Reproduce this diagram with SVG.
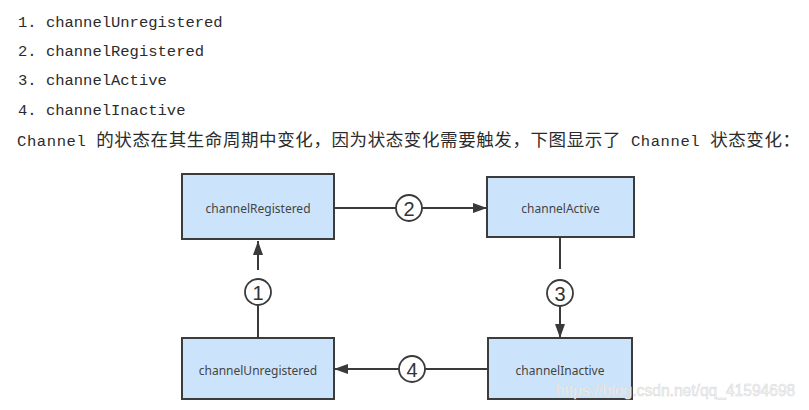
<svg xmlns="http://www.w3.org/2000/svg" width="809" height="410" viewBox="0 0 809 410">
<style>
.lst{font-family:"Liberation Mono",monospace;font-size:15.5px;fill:#2b2b2b}
.cjk{font-family:"Noto Sans CJK SC",sans-serif;font-size:17.5px}
.box{fill:#cce4fb;stroke:#3c3c3c;stroke-width:2}
.lbl{font-family:"Noto Sans","Liberation Sans",sans-serif;font-size:12px;fill:#444;text-anchor:middle;dominant-baseline:central}
.ln{stroke:#3a3a3a;stroke-width:2;fill:none}
.cir{fill:#fff;stroke:#3a3a3a;stroke-width:1.8}
.num{font-family:"Liberation Sans",sans-serif;font-size:20px;fill:#333;text-anchor:middle;dominant-baseline:central}
.wm{font-family:"Liberation Sans",Arial,sans-serif;font-size:15.6px;fill:#f6f6f6;stroke:#d6d6d6;stroke-width:0.5}
</style>
<defs>
<marker id="ah" viewBox="0 0 14 10" markerWidth="14" markerHeight="10" refX="14" refY="5" orient="auto" markerUnits="userSpaceOnUse">
<path d="M0,0 L14,5 L0,10 z" fill="#3a3a3a"/>
</marker>
</defs>
<rect width="809" height="410" fill="#fff"/>
<g id="intro">
<text class="lst" x="18" y="27">1. channelUnregistered</text>
<text class="lst" x="18" y="56">2. channelRegistered</text>
<text class="lst" x="18" y="85">3. channelActive</text>
<text class="lst" x="18" y="115">4. channelInactive</text>
<text class="lst" x="17" y="146" textLength="783" lengthAdjust="spacing">Channel <tspan class="cjk">的状态在其生命周期中变化，因为状态变化需要触发，下图显示了</tspan> Channel <tspan class="cjk">状态变化：</tspan></text>
</g>
<g id="connectors">
<g id="c1">
<line class="ln" x1="258" y1="338" x2="258" y2="306"/>
<line class="ln" x1="258" y1="270" x2="258" y2="241" marker-end="url(#ah)"/>
<circle class="cir" cx="258" cy="292" r="13"/>
<text class="num" x="258" y="293">1</text>
</g>
<g id="c2">
<line class="ln" x1="334" y1="208" x2="396" y2="208"/>
<line class="ln" x1="422" y1="208" x2="487" y2="208" marker-end="url(#ah)"/>
<circle class="cir" cx="409" cy="208" r="13"/>
<text class="num" x="409" y="209">2</text>
</g>
<g id="c3">
<line class="ln" x1="560" y1="237" x2="560" y2="269"/>
<line class="ln" x1="560" y1="306" x2="560" y2="338" marker-end="url(#ah)"/>
<circle class="cir" cx="560" cy="293" r="13"/>
<text class="num" x="560" y="294">3</text>
</g>
<g id="c4">
<line class="ln" x1="488" y1="369" x2="425" y2="369"/>
<line class="ln" x1="399" y1="369" x2="334" y2="369" marker-end="url(#ah)"/>
<circle class="cir" cx="412" cy="369" r="13"/>
<text class="num" x="412" y="370">4</text>
</g>
</g>
<g id="channelRegistered">
<rect class="box" x="182" y="174" width="152" height="65"/>
<text class="lbl" x="258" y="208">channelRegistered</text>
</g>
<g id="channelActive">
<rect class="box" x="487" y="177" width="147" height="60"/>
<text class="lbl" x="560.5" y="208">channelActive</text>
</g>
<g id="channelInactive">
<rect class="box" x="488" y="338" width="144" height="61"/>
<text class="lbl" x="560" y="370">channelInactive</text>
</g>
<g id="channelUnregistered">
<rect class="box" x="182" y="338" width="152" height="61"/>
<text class="lbl" x="258" y="370">channelUnregistered</text>
</g>
<text class="wm" x="556" y="396">https://blog.csdn.net/qq_41594698</text>
</svg>
